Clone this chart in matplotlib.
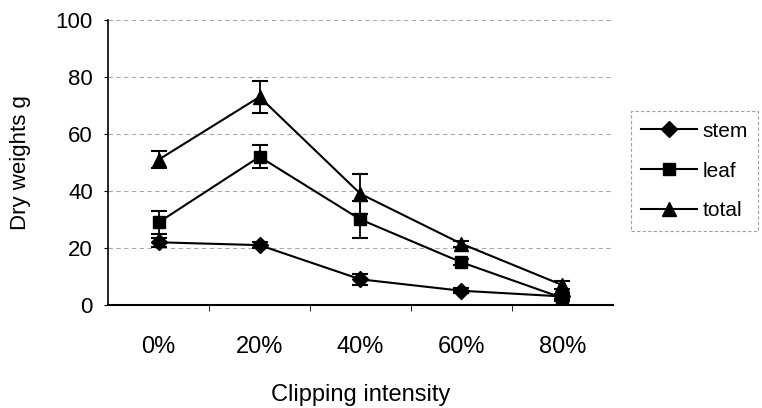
import numpy as np
import matplotlib
matplotlib.use('Agg')
import matplotlib.pyplot as plt

plt.rcParams['font.family'] = ['Liberation Sans', 'DejaVu Sans']

# clipping intensity categories
categories = ['0%', '20%', '40%', '60%', '80%']

# dry weights (g) and error bars
stem = [22, 21, 9, 5, 3]
stem_err = [1.5, 1, 2, 0.8, 0.8]
leaf = [29, 52, 30, 15, 2.5]
leaf_err = [4, 4, 6.5, 1, 1]
total = [51, 73, 39, 21.5, 7]
total_err = [3, 5.5, 7, 1, 1.5]

fig = plt.figure(figsize=(7.62, 4.08), dpi=100)
ax = fig.add_axes([0.142, 0.2525, 0.662, 0.6985])

x = np.arange(len(categories))
series = [(stem, stem_err, 'D', 8, 'stem'),
          (leaf, leaf_err, 's', 9, 'leaf'),
          (total, total_err, '^', 10, 'total')]
for vals, err, mk, ms, lab in series:
    ax.errorbar(x, vals, yerr=err, fmt='none', ecolor='black',
                elinewidth=1.3, capsize=5.5, capthick=1.5)
    ax.plot(x, vals, color='black', marker=mk, markersize=ms,
            linewidth=1.5, label=lab)

ax.set_xlim(-0.5, len(categories) - 0.5)
ax.set_ylim(0, 100)
ax.set_yticks([0, 20, 40, 60, 80, 100])
ax.set_xticks(x)
ax.set_xticklabels(categories)
ax.set_xticks(np.arange(0.5, len(categories) - 0.5, 1), minor=True)
ax.tick_params(axis='x', which='major', length=0, pad=22, labelsize=17)
ax.tick_params(axis='x', which='minor', length=4, direction='out')
ax.tick_params(axis='y', length=3, direction='out', labelsize=16, pad=8)

ax.grid(True, axis='y', linestyle=(0, (4, 3)), color='#aaaaaa', linewidth=0.8)
ax.spines['top'].set_visible(False)
ax.spines['right'].set_visible(False)
ax.spines['left'].set_linewidth(1.2)
ax.spines['bottom'].set_linewidth(1.5)

ax.set_xlabel('Clipping intensity', fontsize=17, labelpad=19)
ax.set_ylabel('Dry weights g', fontsize=16, labelpad=18)

leg = ax.legend(loc='center left', bbox_to_anchor=(1.015, 0.47), fontsize=15,
                frameon=True, fancybox=False, handlelength=2.7,
                labelspacing=1.0, borderpad=0.5, handletextpad=0.25)
leg.get_frame().set_edgecolor('#888888')
leg.get_frame().set_linestyle((0, (3, 2)))
leg.get_frame().set_linewidth(0.8)

fig.savefig('out.png', dpi=100)
